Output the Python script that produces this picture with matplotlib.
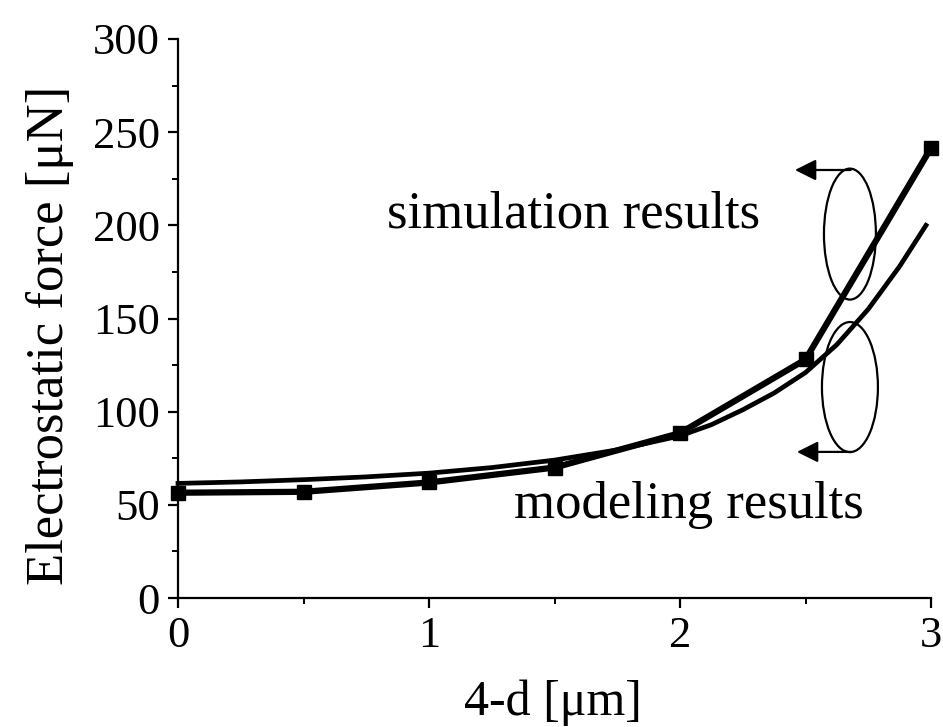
import matplotlib
matplotlib.use("Agg")
import matplotlib.pyplot as plt
from matplotlib.patches import Ellipse
from matplotlib.ticker import MultipleLocator

plt.rcParams['font.family'] = ['Liberation Serif', 'DejaVu Serif']

# Data
sim_x = [0, 0.5, 1.0, 1.5, 2.0, 2.5, 3.0]
sim_y = [56.5, 57.0, 62.0, 70.0, 88.5, 128.0, 241.5]

model_x = [0, 0.25, 0.5, 0.75, 1.0, 1.25, 1.5, 1.75, 2.0, 2.125, 2.25, 2.375,
           2.5, 2.625, 2.75, 2.875, 2.98]
model_y = [61.5, 62.3, 63.5, 65.0, 67.0, 70.0, 74.0, 79.5, 87.0, 93.0, 101.0, 110.0,
           121.0, 136.0, 155.0, 178.0, 200.0]

x_ticks = [0, 1, 2, 3]
y_ticks = [0, 50, 100, 150, 200, 250, 300]

x_label = "4-d [\u03bcm]"
y_label = "Electrostatic force [\u03bcN]"
sim_text = "simulation results"
model_text = "modeling results"

W, H = 943, 727
fig = plt.figure(figsize=(W / 100, H / 100), dpi=100)
ax = fig.add_axes([178 / W, (H - 598) / H, 753 / W, 559 / H])

ax.plot(sim_x, sim_y, color='black', lw=4.5, marker='s', ms=10,
        solid_joinstyle='miter', clip_on=False, zorder=3)
ax.plot(model_x, model_y, color='black', lw=3.4, clip_on=False, zorder=2)

ax.set_xlim(0, 3)
ax.set_ylim(0, 300)
ax.set_xticks(x_ticks)
ax.set_yticks(y_ticks)
ax.xaxis.set_minor_locator(MultipleLocator(0.5))
ax.yaxis.set_minor_locator(MultipleLocator(25))

for s in ['top', 'right']:
    ax.spines[s].set_visible(False)
for s in ['left', 'bottom']:
    ax.spines[s].set_linewidth(1.6)

ax.tick_params(which='major', direction='out', length=7, width=1.6,
               labelsize=32, pad=6)
ax.tick_params(which='minor', direction='out', length=4, width=1.4)

fig.text(553 / W, 1 - 703 / H, x_label, ha='center', va='center', fontsize=36)
fig.text(50 / W, 1 - 335 / H, y_label, ha='center', va='center',
         rotation=90, fontsize=38)

ax.text(1.574, 205.6, sim_text, ha='center', va='center', fontsize=38)
ax.text(2.036, 50, model_text, ha='center', va='center', fontsize=38)

# Ellipses with arrows
ax.add_patch(Ellipse((2.677, 195.3), 0.207, 70.3, fill=False,
                     edgecolor='black', lw=1.6, clip_on=False))
ax.add_patch(Ellipse((2.677, 113.2), 0.223, 69.8, fill=False,
                     edgecolor='black', lw=1.6, clip_on=False))

arrow_kw = dict(arrowstyle='-|>', color='black', lw=1.6,
                mutation_scale=32, shrinkA=0, shrinkB=0)
ax.annotate('', xy=(2.458, 229.7), xytext=(2.68, 229.7), arrowprops=arrow_kw)
ax.annotate('', xy=(2.466, 78.4), xytext=(2.68, 78.4), arrowprops=arrow_kw)

fig.savefig("out.png", dpi=100)
